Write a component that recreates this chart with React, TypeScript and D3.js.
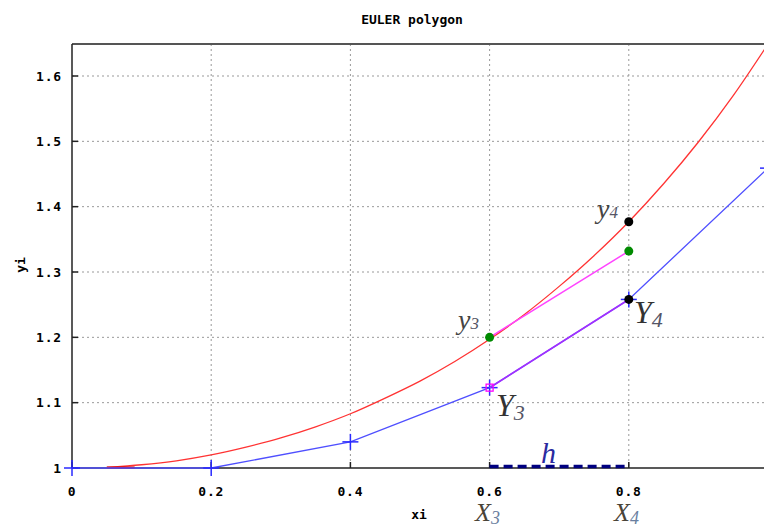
import React from "react";
import * as d3 from "d3";

const W = 764;
const H = 527;

// exact solution (red curve)
const exactX = [0.05, 0.1, 0.15, 0.2, 0.25, 0.3, 0.35, 0.4, 0.45, 0.5, 0.55, 0.6, 0.65, 0.7, 0.75, 0.8, 0.85, 0.9, 0.95, 1.0];
const exactY = [1.001, 1.005, 1.011, 1.02, 1.032, 1.046, 1.063, 1.083, 1.107, 1.133, 1.163, 1.197, 1.235, 1.278, 1.325, 1.377, 1.435, 1.499, 1.57, 1.649];

// Euler polygon (blue)
const eulerX = [0, 0.2, 0.4, 0.6, 0.8, 1.0];
const eulerY = [1, 1, 1.04, 1.123, 1.258, 1.459];

// local step lines (magenta)
const localStartX = [0.6, 0.6];
const localStartY = [1.2, 1.123];
const localEndX = [0.8, 0.8];
const localEndY = [1.332, 1.258];

// dots
const greenX = [0.6, 0.8];
const greenY = [1.2, 1.332];
const blackX = [0.8, 0.8];
const blackY = [1.377, 1.258];

const xTicks = [0, 0.2, 0.4, 0.6, 0.8, 1.0];
const xTickLabels = ["0", "0.2", "0.4", "0.6", "0.8", "1"];
const yTicks = [1, 1.1, 1.2, 1.3, 1.4, 1.5, 1.6];
const yTickLabels = ["1", "1.1", "1.2", "1.3", "1.4", "1.5", "1.6"];

const hStart = 0.6;
const hEnd = 0.8;

export default function App() {
  const left = 72, right = 768, top = 44, bottom = 468;
  const x = d3.scaleLinear().domain([0, 1]).range([left, right]);
  const y = d3.scaleLinear().domain([1, 1.6]).range([bottom, 76]);

  const line = d3.line<[number, number]>().x(d => x(d[0])).y(d => y(d[1]));
  const smooth = d3.line<[number, number]>().x(d => x(d[0])).y(d => y(d[1])).curve(d3.curveMonotoneX);
  const exactPts: [number, number][] = exactX.map((v, i) => [v, exactY[i]]);
  const eulerPts: [number, number][] = eulerX.map((v, i) => [v, eulerY[i]]);

  const mono = "'DejaVu Sans Mono', monospace";
  const serif = "'Liberation Serif', 'DejaVu Serif', serif";

  return (
    <svg width={W} height={H} style={{ position: "absolute", left: 0, top: 0, background: "#fff" }}>
      <rect x={0} y={0} width={W} height={H} fill="#fff" />
      {/* title */}
      <text x={412} y={24} textAnchor="middle" fontFamily={mono} fontWeight="bold" fontSize={13} fill="#000">EULER polygon</text>

      {/* grid */}
      {xTicks.filter(t => t > 0 && t < 1).map(t => (
        <line key={"gx" + t} x1={x(t)} x2={x(t)} y1={top} y2={bottom} stroke="#999" strokeWidth={1} strokeDasharray="2 3" />
      ))}
      {yTicks.filter(t => t > 1).map(t => (
        <line key={"gy" + t} x1={left} x2={right} y1={y(t)} y2={y(t)} stroke="#999" strokeWidth={1} strokeDasharray="2 3" />
      ))}

      {/* frame */}
      <line x1={left} x2={right} y1={top} y2={top} stroke="#555" strokeWidth={2} />
      <line x1={left} x2={left} y1={top} y2={bottom} stroke="#222" strokeWidth={1.5} />
      <line x1={left} x2={right} y1={bottom} y2={bottom} stroke="#222" strokeWidth={1.5} />

      {/* inward ticks */}
      {yTicks.map(t => (
        <line key={"ty" + t} x1={left} x2={left + 6} y1={y(t)} y2={y(t)} stroke="#222" strokeWidth={1.5} />
      ))}
      {xTicks.map(t => (
        <line key={"tx" + t} x1={x(t)} x2={x(t)} y1={bottom} y2={bottom - 6} stroke="#222" strokeWidth={1.5} />
      ))}

      {/* tick labels */}
      {yTicks.map((t, i) => (
        <text key={"ly" + t} x={62} y={y(t) + 4.5} textAnchor="end" fontFamily={mono} fontWeight="bold" fontSize={13} letterSpacing={0.8} fill="#000">{yTickLabels[i]}</text>
      ))}
      {xTicks.map((t, i) => (
        <text key={"lx" + t} x={x(t)} y={496} textAnchor="middle" fontFamily={mono} fontWeight="bold" fontSize={13} letterSpacing={0.8} fill="#000">{xTickLabels[i]}</text>
      ))}

      {/* axis titles */}
      <text x={419} y={519} textAnchor="middle" fontFamily={mono} fontWeight="bold" fontSize={13} fill="#000">xi</text>
      <text transform={`translate(25,265) rotate(-90)`} textAnchor="middle" fontFamily={mono} fontWeight="bold" fontSize={13} fill="#000">yi</text>

      {/* h dashed segment */}
      <line x1={x(hStart)} x2={x(hEnd)} y1={bottom - 1.5} y2={bottom - 1.5} stroke="#000080" strokeWidth={3.5} strokeDasharray="9 5" />

      {/* exact curve */}
      <path d={smooth(exactPts) || ""} fill="none" stroke="#ff3333" strokeWidth={1.3} />
      <line x1={x(0.05)} x2={x(0.09)} y1={bottom - 0.5} y2={bottom - 0.5} stroke="#cc0000" strokeWidth={2} />

      {/* Euler polygon */}
      <path d={line(eulerPts) || ""} fill="none" stroke="#4f4fff" strokeWidth={1.3} />
      {eulerPts.map((p, i) => (
        <g key={"pm" + i} stroke="#2a2aff" strokeWidth={1.5}>
          <line x1={x(p[0]) - 8} x2={x(p[0]) + 8} y1={y(p[1])} y2={y(p[1])} />
          <line x1={x(p[0])} x2={x(p[0])} y1={y(p[1]) - 8} y2={y(p[1]) + 8} />
        </g>
      ))}

      {/* local lines */}
      <line x1={x(localStartX[0])} y1={y(localStartY[0])} x2={x(localEndX[0])} y2={y(localEndY[0])} stroke="#ff44ff" strokeWidth={1.5} />
      <line x1={x(localStartX[1])} y1={y(localStartY[1])} x2={x(localEndX[1])} y2={y(localEndY[1])} stroke="#a030ff" strokeWidth={1.8} />
      <rect x={x(localStartX[1]) - 3.5} y={y(localStartY[1]) - 3.5} width={7} height={7} fill="none" stroke="#ff00ff" strokeWidth={1.3} />

      {/* dots */}
      {greenX.map((v, i) => (
        <circle key={"g" + i} cx={x(v)} cy={y(greenY[i])} r={4.5} fill="#008a00" />
      ))}
      {blackX.map((v, i) => (
        <circle key={"b" + i} cx={x(v)} cy={y(blackY[i])} r={4.5} fill="#000" />
      ))}

      {/* annotations */}
      <text x={458} y={329} fontFamily={serif} fontStyle="italic" fontSize={28} fill="#444">y<tspan fontSize={17} fill="#556">3</tspan></text>
      <text x={597} y={218} fontFamily={serif} fontStyle="italic" fontSize={28} fill="#444">y<tspan fontSize={17} fill="#556">4</tspan></text>
      <text x={496} y={416} fontFamily={serif} fontStyle="italic" fontSize={32} fill="#333">Y<tspan fontSize={22} dy={4} fill="#556">3</tspan></text>
      <text x={634} y={323} fontFamily={serif} fontStyle="italic" fontSize={32} fill="#333">Y<tspan fontSize={22} dy={4} fill="#556">4</tspan></text>
      <text x={541} y={463} fontFamily={serif} fontStyle="italic" fontSize={30} fill="#2a2aa0">h</text>
      <text x={475} y={521} fontFamily={serif} fontStyle="italic" fontSize={26} fill="#4a4438">X<tspan fontSize={18} dy={3} fill="#6a7fa0">3</tspan></text>
      <text x={614} y={521} fontFamily={serif} fontStyle="italic" fontSize={26} fill="#4a4438">X<tspan fontSize={18} dy={3} fill="#6a7fa0">4</tspan></text>
    </svg>
  );
}
